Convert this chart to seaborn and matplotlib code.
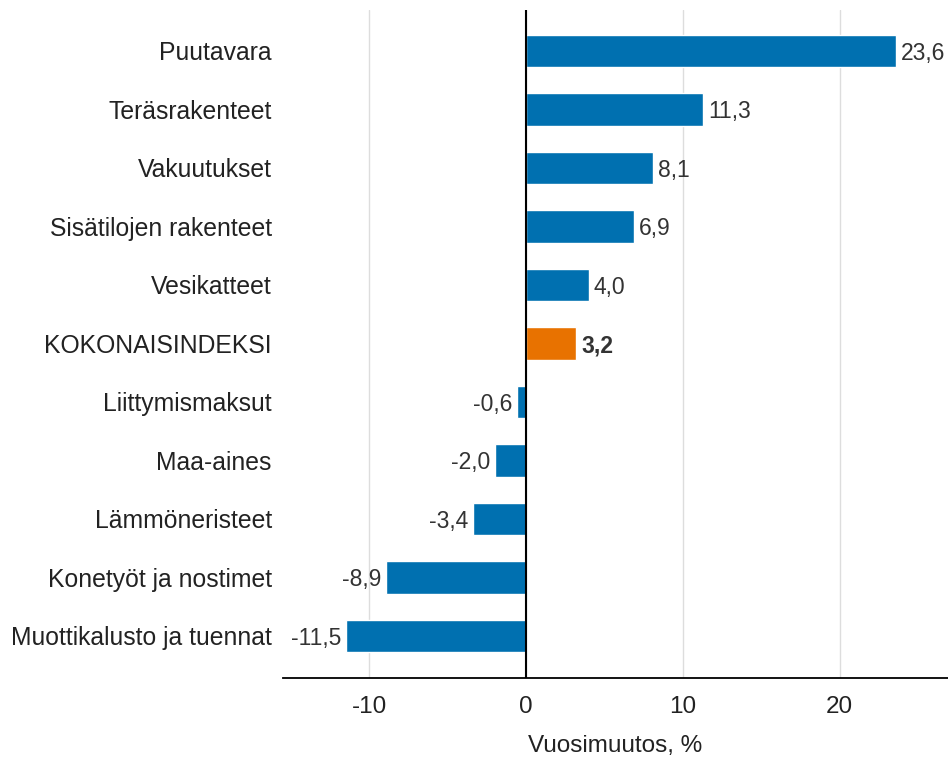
import pandas as pd
import matplotlib.pyplot as plt
import seaborn as sns

### DATA ###

categories = ['Puutavara', 'Teräsrakenteet', 'Vakuutukset', 'Sisätilojen rakenteet',
              'Vesikatteet', 'KOKONAISINDEKSI', 'Liittymismaksut', 'Maa-aines',
              'Lämmöneristeet', 'Konetyöt ja nostimet', 'Muottikalusto ja tuennat']
values = [23.6, 11.3, 8.1, 6.9, 4.0, 3.2, -0.6, -2.0, -3.4, -8.9, -11.5]
groups = ['osa' if c != 'KOKONAISINDEKSI' else 'kok' for c in categories]

df = pd.DataFrame({'nimike': categories, 'muutos': values, 'ryhma': groups})

### PLOT ###

sns.set_style('white')
plt.rcParams['font.family'] = ['Liberation Sans', 'DejaVu Sans']

fig = plt.figure(figsize=(9.48, 7.58), dpi=100)
ax = fig.add_axes([0.2985, 0.1055, 0.7015, 0.8813])

sns.barplot(data=df, x='muutos', y='nimike', hue='ryhma', order=categories,
            palette={'osa': '#0070B0', 'kok': '#E87200'}, saturation=1,
            width=0.55, dodge=False, legend=False, ax=ax)

for i, v in enumerate(values):
    txt = f'{v:.1f}'.replace('.', ',')
    bold = categories[i] == 'KOKONAISINDEKSI'
    ax.text(v + (0.3 if v >= 0 else -0.3), i, txt,
            ha='left' if v >= 0 else 'right', va='center_baseline',
            fontsize=16.5, color='#333333',
            fontweight='bold' if bold else 'normal')

ax.set_xlim(-15.5, 26.9)
ax.set_ylim(10.72, -0.70)
ax.set_xticks([-10, 0, 10, 20])
ax.set_xticklabels(['-10', '0', '10', '20'])
ax.xaxis.grid(True, color='#dddddd', linewidth=1)
ax.axvline(0, color='black', linewidth=1.5, zorder=3)
ax.set_axisbelow(True)

for s in ['top', 'right', 'left']:
    ax.spines[s].set_visible(False)
ax.spines['bottom'].set_color('black')
ax.spines['bottom'].set_linewidth(1.3)

ax.tick_params(axis='y', length=0, pad=8, labelsize=17.8, labelcolor='#222222')
ax.tick_params(axis='x', length=0, pad=13, labelsize=17.5, labelcolor='#222222')
ax.set_ylabel('')
ax.set_xlabel('Vuosimuutos, %', fontsize=17.5, color='#222222', labelpad=12)

fig.savefig('out.png', dpi=100)
